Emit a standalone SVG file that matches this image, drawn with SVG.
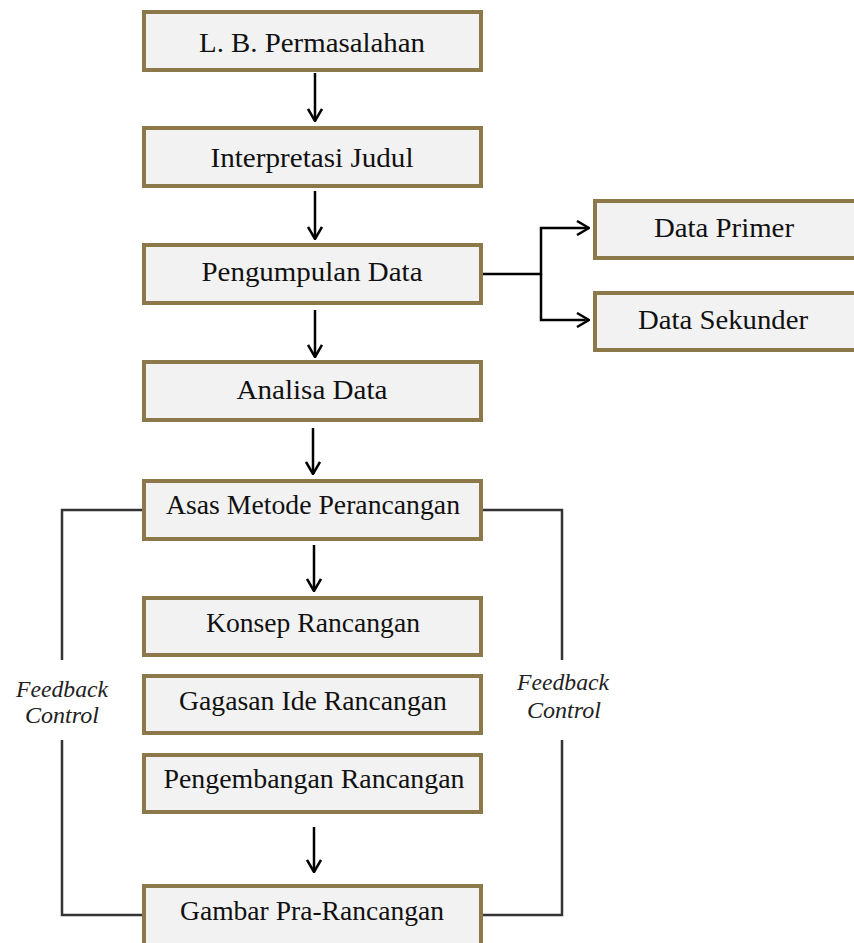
<svg xmlns="http://www.w3.org/2000/svg" width="854" height="943" viewBox="0 0 854 943">
<style>
.box{fill:#f2f2f2;stroke:#8c7849;stroke-width:4}
.t{font-family:"Liberation Serif","Times New Roman",serif;font-size:28px;fill:#111;text-anchor:middle}
.fb{font-family:"Liberation Serif","Times New Roman",serif;font-size:23px;font-style:italic;fill:#222;text-anchor:middle}
.a{fill:none;stroke:#000;stroke-width:2.5}
.fl{fill:none;stroke:#333;stroke-width:2.5}
</style>
<defs>
<marker id="arr" viewBox="0 0 14 16" refX="13" refY="8" markerWidth="14" markerHeight="16" markerUnits="userSpaceOnUse" orient="auto">
<path d="M1,1 L13,8 L1,15" fill="none" stroke="#000" stroke-width="2.5"/>
</marker>
</defs>
<g id="connectors">
<path class="a" d="M315,73 V121" marker-end="url(#arr)"/>
<path class="a" d="M315,191 V239" marker-end="url(#arr)"/>
<path class="a" d="M315,310 V357" marker-end="url(#arr)"/>
<path class="a" d="M313,428 V474" marker-end="url(#arr)"/>
<path class="a" d="M314,545 V591" marker-end="url(#arr)"/>
<path class="a" d="M314,827 V872" marker-end="url(#arr)"/>
<path class="a" d="M483,274 H541 V228 H589" marker-end="url(#arr)"/>
<path class="a" d="M541,274 V320 H589" marker-end="url(#arr)"/>
<path class="fl" d="M143,510 H62 V660"/>
<path class="fl" d="M62,740 V915 H143"/>
<path class="fl" d="M481,510 H562 V660"/>
<path class="fl" d="M562,740 V915 H481"/>
</g>
<g id="n1"><rect class="box" x="144" y="12" width="337" height="58"/><text class="t" x="312" y="52" textLength="226" lengthAdjust="spacingAndGlyphs">L. B. Permasalahan</text></g>
<g id="n2"><rect class="box" x="144" y="128" width="337" height="58"/><text class="t" x="312" y="167" textLength="203" lengthAdjust="spacingAndGlyphs">Interpretasi Judul</text></g>
<g id="n3"><rect class="box" x="144" y="245" width="337" height="58"/><text class="t" x="312" y="281" textLength="221" lengthAdjust="spacingAndGlyphs">Pengumpulan Data</text></g>
<g id="n4"><rect class="box" x="144" y="362" width="337" height="58"/><text class="t" x="312" y="399" textLength="151" lengthAdjust="spacingAndGlyphs">Analisa Data</text></g>
<g id="n5"><rect class="box" x="595" y="201" width="262" height="57"/><text class="t" x="724" y="237" textLength="140" lengthAdjust="spacingAndGlyphs">Data Primer</text></g>
<g id="n6"><rect class="box" x="595" y="293" width="262" height="57"/><text class="t" x="723" y="329" textLength="170" lengthAdjust="spacingAndGlyphs">Data Sekunder</text></g>
<g id="n7"><rect class="box" x="144" y="481" width="337" height="58"/><text class="t" x="313" y="514" textLength="294" lengthAdjust="spacingAndGlyphs">Asas Metode Perancangan</text></g>
<g id="n8"><rect class="box" x="144" y="598" width="337" height="57"/><text class="t" x="313" y="632" textLength="214" lengthAdjust="spacingAndGlyphs">Konsep Rancangan</text></g>
<g id="n9"><rect class="box" x="144" y="676" width="337" height="57"/><text class="t" x="313" y="710" textLength="268" lengthAdjust="spacingAndGlyphs">Gagasan Ide Rancangan</text></g>
<g id="n10"><rect class="box" x="144" y="755" width="337" height="57"/><text class="t" x="314" y="788" textLength="301" lengthAdjust="spacingAndGlyphs">Pengembangan Rancangan</text></g>
<g id="n11"><rect class="box" x="144" y="886" width="337" height="60"/><text class="t" x="312" y="920" textLength="264" lengthAdjust="spacingAndGlyphs">Gambar Pra-Rancangan</text></g>
<g id="fbl"><text class="fb" x="62" y="697" textLength="92" lengthAdjust="spacingAndGlyphs">Feedback</text><text class="fb" x="62" y="723" textLength="74" lengthAdjust="spacingAndGlyphs">Control</text></g>
<g id="fbr"><text class="fb" x="563" y="690" textLength="92" lengthAdjust="spacingAndGlyphs">Feedback</text><text class="fb" x="564" y="718" textLength="74" lengthAdjust="spacingAndGlyphs">Control</text></g>
</svg>
